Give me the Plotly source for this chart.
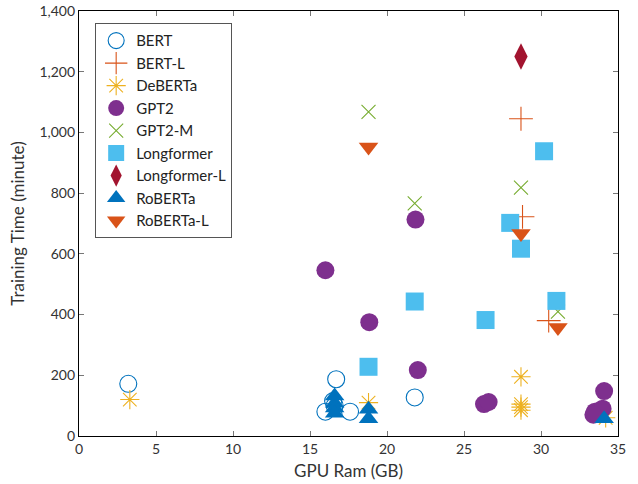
import plotly.graph_objects as go

bert_x = [3.2, 16.0, 16.5, 16.6, 16.7, 17.6, 21.8]
bert_y = [172, 80, 115, 100, 187, 80, 127]
bertl_x = [28.7, 28.8, 30.5]
bertl_y = [1045, 722, 380]
deberta_x = [3.3, 18.8, 28.7, 28.7, 28.7, 28.7, 34.2]
deberta_y = [120, 110, 195, 105, 95, 85, 60]
gpt2_x = [16.0, 18.85, 21.85, 22.0, 26.3, 26.6, 34.1, 33.5, 34.0, 33.4]
gpt2_y = [546, 375, 713, 217, 105, 112, 148, 80, 90, 70]
gpt2m_x = [18.8, 21.8, 28.7, 31.1]
gpt2m_y = [1068, 766, 818, 410]
longf_x = [18.8, 21.8, 26.4, 28.0, 28.7, 30.2, 31.0]
longf_y = [228, 443, 382, 702, 617, 938, 445]
longfl_x = [28.7]
longfl_y = [1250]
roberta_x = [16.6, 16.6, 16.6, 16.6, 18.8, 18.8, 34.1]
roberta_y = [132, 108, 92, 75, 88, 57, 57]
robertal_x = [18.8, 28.7, 31.1]
robertal_y = [952, 667, 357]

series = [
    ("BERT", bert_x, bert_y, "circle-open", "#0072BD", 17, 1.1),
    ("BERT-L", bertl_x, bertl_y, "cross-thin-open", "#D95319", 17, 1.1),
    ("DeBERTa", deberta_x, deberta_y, "asterisk-open", "#EDB120", 16, 1.1),
    ("GPT2", gpt2_x, gpt2_y, "circle", "#7E2F8E", 18, 0),
    ("GPT2-M", gpt2m_x, gpt2m_y, "x-thin-open", "#77AC30", 14, 1.1),
    ("Longformer", longf_x, longf_y, "square", "#4DBEEE", 18, 0),
    ("Longformer-L", longfl_x, longfl_y, "diamond-tall", "#A2142F", 19, 0),
    ("RoBERTa", roberta_x, roberta_y, "triangle-up", "#0072BD", 17, 0),
    ("RoBERTa-L", robertal_x, robertal_y, "triangle-down", "#D95319", 17, 0),
]

fig = go.Figure()
for name, xs, ys, sym, col, sz, lw in series:
    marker = dict(symbol=sym, size=sz, color=col)
    if lw:
        marker["line"] = dict(color=col, width=lw)
    else:
        marker["line"] = dict(width=0)
    fig.add_trace(go.Scatter(x=xs, y=ys, mode="markers", name=name, marker=marker))

axis_common = dict(
    showgrid=False, zeroline=False, showline=True, linecolor="black", linewidth=1.2,
    mirror="ticks", ticks="inside", ticklen=5, tickcolor="#777777", automargin=False,
    tickfont=dict(size=14, color="#333333", family="Lato"),
)
fig.update_xaxes(range=[0, 35], dtick=5, tick0=0,
                 title=dict(text="GPU Ram (GB)", font=dict(size=17, color="#333333", family="Lato"), standoff=9),
                 **axis_common)
fig.update_yaxes(range=[0, 1400], dtick=200, tick0=0, tickformat=",d",
                 title=dict(text="Training Time (minute)", font=dict(size=17, color="#333333", family="Lato"), standoff=10),
                 **axis_common)

fig.update_layout(
    width=638, height=484,
    margin=dict(l=79, r=20, t=11, b=48),
    paper_bgcolor="white", plot_bgcolor="white",
    font=dict(family="Lato", color="#222222"),
    showlegend=True,
    legend=dict(x=0.03, y=0.971, xanchor="left", yanchor="top",
                bgcolor="white", bordercolor="#555555", borderwidth=1,
                font=dict(size=15, family="Lato", color="#222222"),
                itemsizing="trace", tracegroupgap=0, itemwidth=30),
)

fig.write_html("out.html", config={"displayModeBar": False},
               post_script="document.body.style.margin='0';document.body.style.overflow='hidden';")
